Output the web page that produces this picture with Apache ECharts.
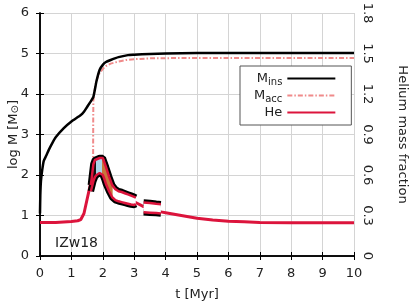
<!DOCTYPE html>
<html><head><meta charset="utf-8">
<script src="https://cdn.jsdelivr.net/npm/echarts@6/dist/echarts.min.js"></script>
<style>html,body{margin:0;padding:0;background:#fff}#c{width:411px;height:306px}</style>
</head><body><div id="c"></div>
<script>
// M_ins (log M) vs t [Myr]
const insT = [0,0.01,0.03,0.07,0.12,0.2,0.28,0.4,0.5,0.75,1.0,1.3,1.4,1.5,1.6,1.7,1.8,1.9,2.0,2.1,2.25,2.5,2.8,3.0,3.5,4.0,5.0,6.0,10.0];
const insM = [1.05,1.5,1.85,2.12,2.35,2.48,2.62,2.8,2.93,3.15,3.32,3.48,3.56,3.68,3.8,3.93,4.32,4.6,4.72,4.79,4.84,4.91,4.96,4.97,4.99,5.0,5.01,5.01,5.01];
// M_acc (log M)
const accT = [1.69,1.695,1.7,1.72,1.76,1.8,1.84,1.9,2.0,2.1,2.25,2.5,2.75,3.0,3.5,4.0,5.0,10.0];
const accM = [2.0,3.4,3.85,3.97,4.2,4.33,4.42,4.52,4.62,4.69,4.75,4.8,4.84,4.86,4.88,4.885,4.89,4.89];
// Helium mass fraction (right axis)
const heT = [0,0.5,1.0,1.2,1.3,1.4,1.5,1.6,1.8,2.0,2.2,2.5,3.0,3.05,3.3,3.6,3.85,4.0,4.5,5.0,5.5,6.0,6.5,7.0,8.0,9.0,10.0];
const heF = [0.249,0.249,0.255,0.261,0.27,0.315,0.42,0.525,0.63,0.66,0.54,0.45,0.402,0.396,0.366,0.345,0.327,0.321,0.30,0.279,0.267,0.258,0.2535,0.249,0.246,0.246,0.246];
// Helium spread band, first segment
const band1T  = [1.62,1.7,1.75,1.8,1.9,1.95,2.0,2.05,2.1,2.2,2.3,2.4,2.5,2.6,2.7,2.8,2.9,3.0,3.05];
const band1Up = [0.525,0.68,0.711,0.72,0.726,0.729,0.726,0.714,0.66,0.588,0.525,0.495,0.48,0.474,0.465,0.456,0.447,0.438,0.432];
const band1Lo = [0.48,0.555,0.585,0.6,0.615,0.615,0.6,0.57,0.534,0.48,0.435,0.414,0.405,0.399,0.393,0.387,0.381,0.378,0.384];
// Helium spread band, second segment
const band2T  = [3.3,3.5,3.7,3.85];
const band2Up = [0.396,0.393,0.387,0.384];
const band2Lo = [0.324,0.321,0.318,0.315];

const FONT = 'DejaVu Sans';
const TXT = '#222';
const RED = '#dc143c';
const pairs = (t, v) => t.map((x, i) => [x, v[i]]);
const last = a => a[a.length - 1];
const edges = [].concat(
  pairs(band1T, band1Up), [[last(band1T), null]],
  pairs(band1T, band1Lo), [[last(band1T), null]],
  pairs(band2T, band2Up), [[last(band2T), null]],
  pairs(band2T, band2Lo)
);
const bands = [
  {t: band1T, up: band1Up, lo: band1Lo, fill: new echarts.graphic.LinearGradient(0, 0, 1, 0, [
    {offset: 0, color: '#111'}, {offset: 0.11, color: '#111'},
    {offset: 0.115, color: '#a9d6e8'}, {offset: 0.25, color: '#a9d6e8'},
    {offset: 0.255, color: '#c8773a'}, {offset: 0.48, color: '#c8773a'},
    {offset: 0.485, color: '#fff'}, {offset: 1, color: '#fff'}])},
  {t: band2T, up: band2Up, lo: band2Lo, fill: '#fff'}
];

const chart = echarts.init(document.getElementById('c'), null, {renderer: 'canvas'});
chart.setOption({
  animation: false,
  backgroundColor: '#fff',
  textStyle: {fontFamily: FONT},
  title: {text: 'IZw18', left: 55, top: 236, padding: 0,
    textStyle: {fontFamily: FONT, fontSize: 14, fontWeight: 'normal', color: TXT}},
  grid: {left: 40, right: 57, top: 13, bottom: 50, containLabel: false, outerBoundsMode: 'none'},
  legend: {
    orient: 'vertical', align: 'right', left: 240, top: 66,
    padding: [6, 15, 6, 14], itemGap: 2, itemWidth: 48, itemHeight: 15,
    borderColor: '#555', borderWidth: 1, backgroundColor: '#fff',
    itemStyle: {opacity: 0, borderWidth: 0},
    data: ['Mins', 'Macc', 'He'],
    formatter: n => n === 'Mins' ? '{m|M}{s|ins}' : n === 'Macc' ? '{m|M}{s|acc}' : '{m|He}',
    textStyle: {fontFamily: FONT, color: TXT, fontSize: 13,
      rich: {m: {fontFamily: FONT, fontSize: 13, color: TXT, lineHeight: 17},
             s: {fontFamily: FONT, fontSize: 10, color: TXT, lineHeight: 10, verticalAlign: 'bottom'}}}
  },
  xAxis: [{
    type: 'value', min: 0, max: 10, interval: 1, position: 'bottom',
    name: 't [Myr]', nameLocation: 'middle', nameGap: 32, nameMoveOverlap: false,
    nameTextStyle: {fontFamily: FONT, fontSize: 13, color: TXT},
    axisLine: {lineStyle: {color: '#000', width: 1.5}},
    axisTick: {inside: true, length: 4, lineStyle: {color: '#000'}},
    axisLabel: {fontFamily: FONT, fontSize: 13, color: TXT, margin: 11},
    splitLine: {show: true, lineStyle: {color: '#d4d4d4', width: 1}}
  }, {
    type: 'value', min: 0, max: 10, interval: 1, position: 'top',
    axisLine: {lineStyle: {color: '#000', width: 1.5}},
    axisTick: {inside: true, length: 4, lineStyle: {color: '#000'}},
    axisLabel: {show: false}, splitLine: {show: false}
  }],
  yAxis: [{
    type: 'value', min: 0, max: 6, interval: 1, position: 'left',
    name: 'log M [M{s|\u2299}]', nameLocation: 'middle', nameGap: 20, nameRotate: 90, nameMoveOverlap: false,
    nameTextStyle: {fontFamily: FONT, fontSize: 13, color: TXT,
      rich: {s: {fontFamily: FONT, fontSize: 10, color: TXT, lineHeight: 10, verticalAlign: 'bottom'}}},
    axisLine: {show: true, lineStyle: {color: '#000', width: 1.5}},
    axisTick: {show: true, inside: true, length: 4, lineStyle: {color: '#000'}},
    axisLabel: {fontFamily: FONT, fontSize: 13, color: TXT, margin: 11},
    splitLine: {show: true, lineStyle: {color: '#d4d4d4', width: 1}}
  }, {
    type: 'value', min: 0, max: 1.8, interval: 0.3, position: 'right',
    name: 'Helium mass fraction', nameLocation: 'middle', nameGap: 42, nameRotate: -90, nameMoveOverlap: false,
    nameTextStyle: {fontFamily: FONT, fontSize: 13, color: TXT},
    axisLine: {show: true, lineStyle: {color: '#000', width: 1.5}},
    axisTick: {show: true, inside: true, length: 4, lineStyle: {color: '#000'}},
    axisLabel: {fontFamily: FONT, fontSize: 13, color: TXT, margin: 7, rotate: -90,
      formatter: v => v === 0 ? '0' : v.toFixed(1)},
    splitLine: {show: false}
  }],
  series: [
    {name: 'Macc', type: 'line', z: 1, data: pairs(accT, accM), showSymbol: false, symbol: 'none',
     lineStyle: {color: '#f08a8a', width: 2, type: [5, 2, 1.5, 2]}, itemStyle: {color: '#f08a8a'}},
    {name: 'He', type: 'line', z: 2, yAxisIndex: 1, data: pairs(heT, heF), showSymbol: false, symbol: 'none',
     lineStyle: {color: RED, width: 3}, itemStyle: {color: RED}},
    {name: 'heEdgeBlack', type: 'line', z: 3, yAxisIndex: 1, data: edges, showSymbol: false, symbol: 'none',
     connectNulls: false, lineStyle: {color: '#000', width: 6.5}},
    {name: 'heBand', type: 'custom', z: 4, yAxisIndex: 1,
     data: bands.map((b, i) => [b.t[0], b.lo[0], i]),
     renderItem: (params, api) => {
       const b = bands[params.dataIndex];
       const pts = b.t.map((x, i) => api.coord([x, b.up[i]]))
         .concat(b.t.map((x, i) => api.coord([x, b.lo[i]])).reverse());
       return {type: 'polygon', shape: {points: pts}, style: {fill: b.fill, stroke: null}};
     }},
    {name: 'heEdgeRed', type: 'line', z: 5, yAxisIndex: 1, data: edges, showSymbol: false, symbol: 'none',
     connectNulls: false, lineStyle: {color: RED, width: 2.5}},
    {name: 'Mins', type: 'line', z: 6, data: pairs(insT, insM), showSymbol: false, symbol: 'none',
     smooth: 0.2, lineStyle: {color: '#000', width: 2.5}, itemStyle: {color: '#000'}}
  ]
});
</script></body></html>
